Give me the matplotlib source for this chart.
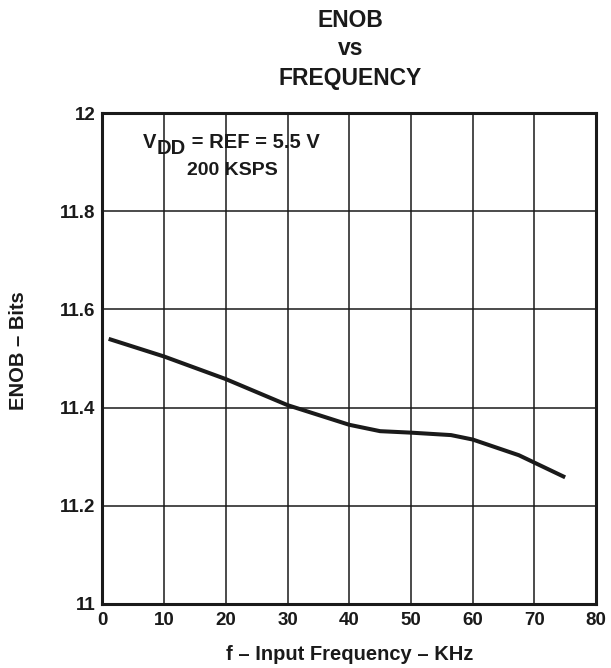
import numpy as np
import matplotlib.pyplot as plt

plt.rcParams['font.family'] = ['Liberation Sans', 'DejaVu Sans']
plt.rcParams['font.weight'] = 'bold'
INK = '#1a1a1a'

# curve
freq = [1, 10, 20, 30, 40, 45, 50, 56.5, 60, 67.5, 75]
enob = [11.54, 11.504, 11.458, 11.405, 11.365, 11.352, 11.349, 11.344, 11.335, 11.303, 11.258]

xticks = [0, 10, 20, 30, 40, 50, 60, 70, 80]
yticks = [11, 11.2, 11.4, 11.6, 11.8, 12]
ytick_labels = ['11', '11.2', '11.4', '11.6', '11.8', '12']

W, H = 611, 668
fig = plt.figure(figsize=(W / 100, H / 100), dpi=100)
ax = fig.add_axes([102.5/W, 1-604/H, (596-102.5)/W, (604-113)/H])

ax.plot(freq, enob, color=INK, lw=2.9, solid_capstyle='butt', zorder=3)

ax.set_xlim(0, 80)
ax.set_ylim(11, 12)
ax.set_xticks(xticks)
ax.set_yticks(yticks)
ax.set_yticklabels(ytick_labels)
ax.tick_params(length=0, labelsize=13.5, colors=INK)
ax.tick_params(axis='x', pad=6)
ax.tick_params(axis='y', pad=5)
ax.grid(True, color=INK, lw=1.1)
for s in ax.spines.values():
    s.set_linewidth(2.2)
    s.set_color(INK)

# axis labels
fig.text(350/W, 1-654/H, 'f – Input Frequency – KHz', ha='center', va='center',
         fontsize=14.5, fontweight='bold', color=INK)
fig.text(19/W, 1-351/H, 'ENOB – Bits', ha='center', va='center', rotation=90,
         fontsize=14.5, fontweight='bold', color=INK)

# title, three lines
for txt, base in [('ENOB', 26.7), ('vs', 55), ('FREQUENCY', 85)]:
    fig.text(350.5/W, 1-base/H, txt, ha='center', va='baseline',
             fontsize=16.5, fontweight='bold', color=INK)

# condition note
t1 = fig.text(143/W, 1-148.5/H, 'V', ha='left', va='baseline',
              fontsize=14.5, fontweight='bold', color=INK)
t2 = ax.annotate('DD', xy=(1, 0), xycoords=t1, xytext=(0, -4), textcoords='offset points',
                 ha='left', va='bottom', fontsize=14.5, fontweight='bold', color=INK)
ax.annotate(' = REF = 5.5 V', xy=(1, 0), xycoords=t2, xytext=(0, 4), textcoords='offset points',
            ha='left', va='bottom', fontsize=14.5, fontweight='bold', color=INK)
fig.text(232.5/W, 1-175/H, '200 KSPS', ha='center', va='baseline',
         fontsize=14, fontweight='bold', color=INK)

fig.savefig('out.png', dpi=100)
